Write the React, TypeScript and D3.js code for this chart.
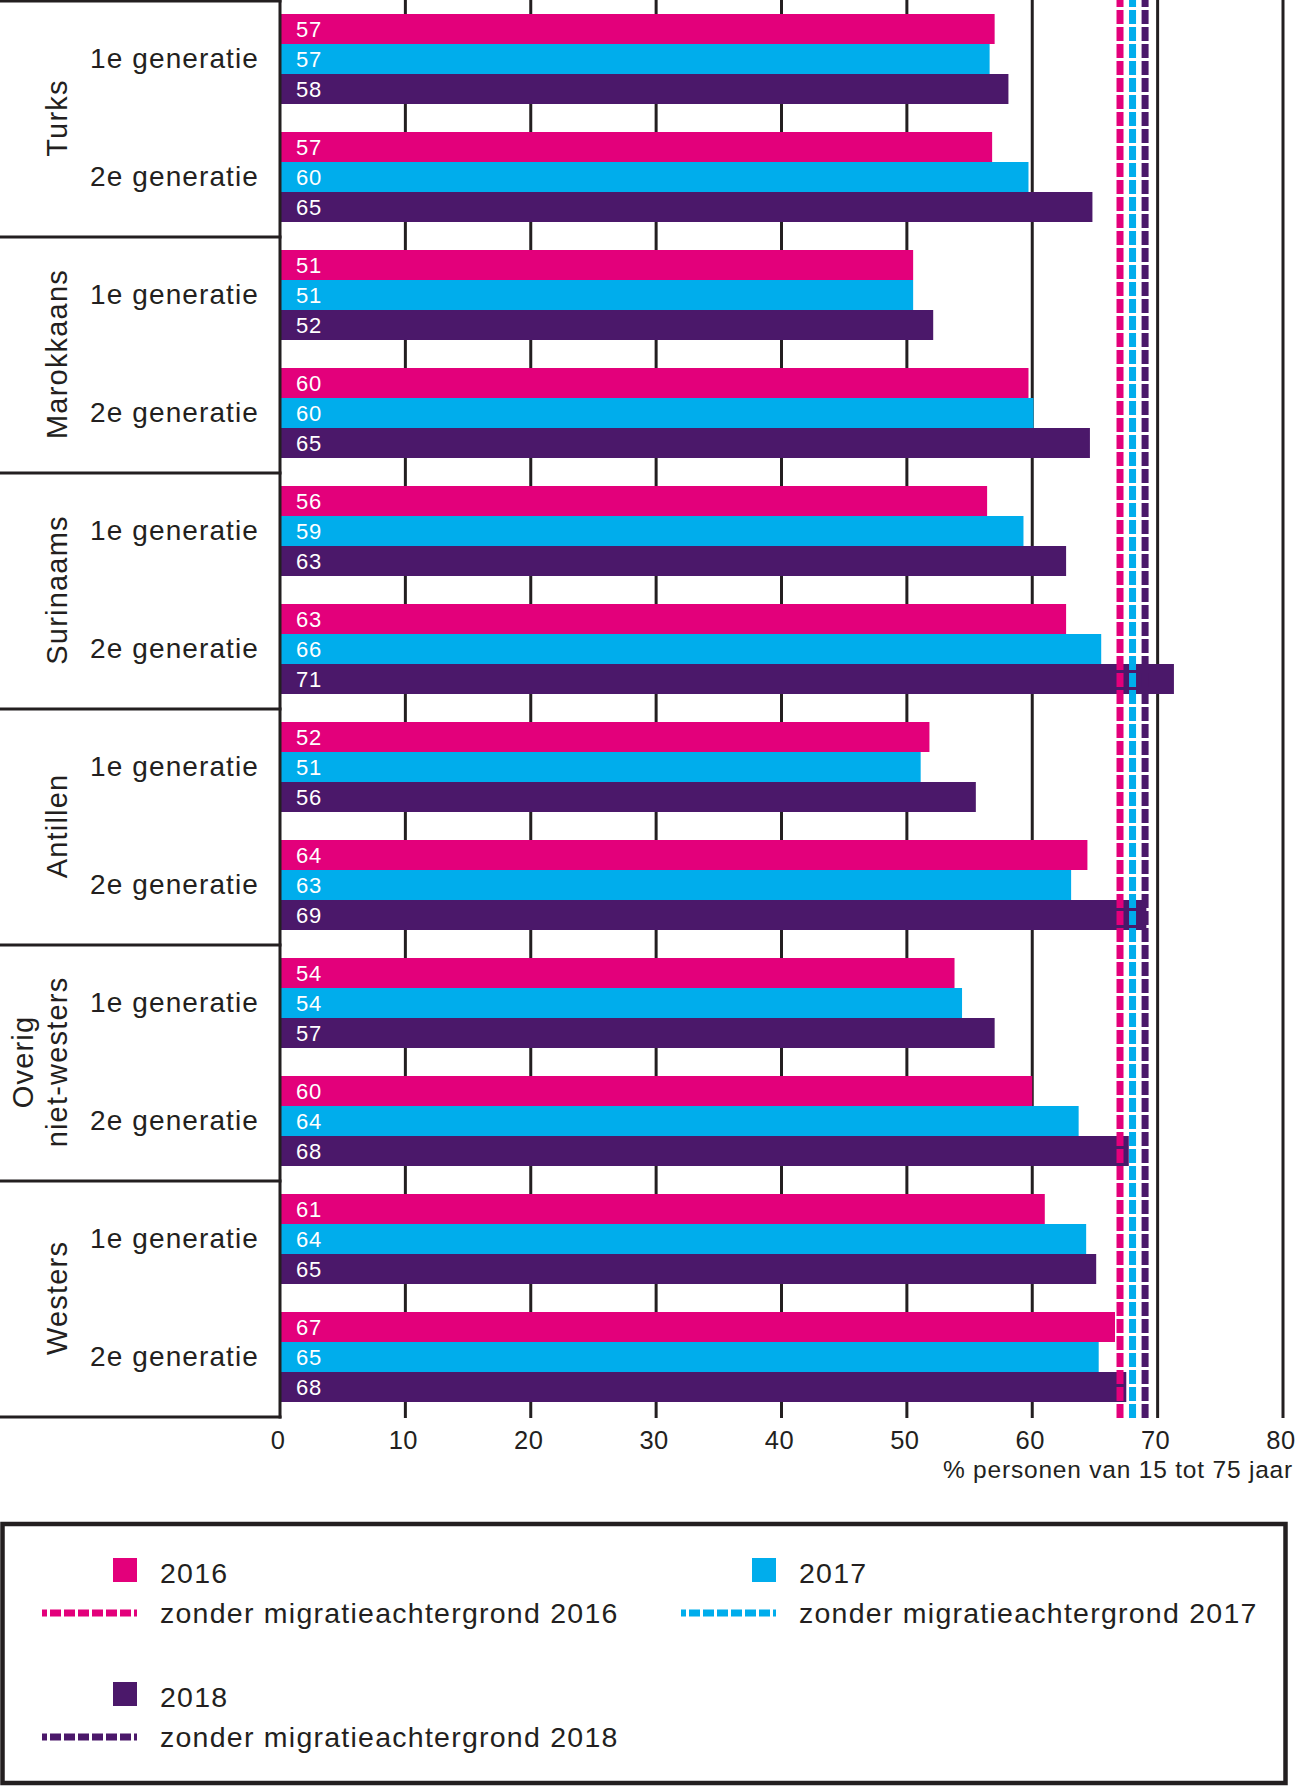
import React from "react";
import * as d3 from "d3";

const groups = ["Turks", "Marokkaans", "Surinaams", "Antillen", "Overig niet-westers", "Westers"];
const groupLabelLines = [["Turks"], ["Marokkaans"], ["Surinaams"], ["Antillen"], ["Overig", "niet-westers"], ["Westers"]];
const generations = ["1e generatie", "2e generatie"];
const years = ["2016", "2017", "2018"];

// order: Turks 1e, Turks 2e, Marokkaans 1e, Marokkaans 2e, ...
const values2016 = [57.0, 56.8, 50.5, 59.7, 56.4, 62.7, 51.8, 64.4, 53.8, 60.0, 61.0, 66.6];
const values2017 = [56.6, 59.7, 50.5, 60.1, 59.3, 65.5, 51.1, 63.1, 54.4, 63.7, 64.3, 65.3];
const values2018 = [58.1, 64.8, 52.1, 64.6, 62.7, 71.3, 55.5, 69.1, 57.0, 67.7, 65.1, 67.5];
const labels2016 = [57, 57, 51, 60, 56, 63, 52, 64, 54, 60, 61, 67];
const labels2017 = [57, 60, 51, 60, 59, 66, 51, 63, 54, 64, 64, 65];
const labels2018 = [58, 65, 52, 65, 63, 71, 56, 69, 57, 68, 65, 68];
const referenceValues = [67, 68, 69];
const referenceLabels = [
  "zonder migratieachtergrond 2016",
  "zonder migratieachtergrond 2017",
  "zonder migratieachtergrond 2018",
];
const xTicks = [0, 10, 20, 30, 40, 50, 60, 70, 80];
const xTitle = "% personen van 15 tot 75 jaar";

const colors = ["#E3007B", "#00ADEC", "#4B186A"];
const ink = "#231F20";
const font = "'Liberation Sans', Arial, sans-serif";

export default function App() {
  const W = 1300;
  const H = 1786;
  const x = d3.scaleLinear().domain([0, 80]).range([280, 1283]);
  const yGroup = d3.scaleBand<string>().domain(groups).range([0, 1416]);
  const yGen = d3.scaleBand<string>().domain(generations).range([0, yGroup.bandwidth()]);
  const ySer = d3.scaleBand<string>().domain(years).range([14, yGen.bandwidth() - 14]);
  const seriesValues = [values2016, values2017, values2018];
  const seriesLabels = [labels2016, labels2017, labels2018];
  const plotBottom = 1417;

  const bars: any[] = [];
  groups.forEach((g, gi) => {
    generations.forEach((gen, ni) => {
      const idx = gi * 2 + ni;
      years.forEach((yr, si) => {
        const y0 = (yGroup(g) as number) + (yGen(gen) as number) + (ySer(yr) as number);
        bars.push({
          key: `${g}-${gen}-${yr}`,
          y: y0,
          h: ySer.bandwidth(),
          w: x(seriesValues[si][idx]) - x(0),
          color: colors[si],
          label: seriesLabels[si][idx],
        });
      });
    });
  });

  const legendItems = [
    { x: 113, y: 1558, color: colors[0], year: years[0], label: referenceLabels[0] },
    { x: 752, y: 1558, color: colors[1], year: years[1], label: referenceLabels[1] },
    { x: 113, y: 1682, color: colors[2], year: years[2], label: referenceLabels[2] },
  ];

  return (
    <div style={{ position: "absolute", left: 0, top: 0 }}>
      <svg width={W} height={H} style={{ display: "block", background: "#fff" }} fontFamily={font}>
        {/* gridlines & ticks */}
        {xTicks.filter((t) => t > 0).map((t) => (
          <line key={"g" + t} x1={x(t)} x2={x(t)} y1={0} y2={plotBottom + 1} stroke={ink} strokeWidth={3} />
        ))}
        {/* bars */}
        {bars.map((b) => (
          <g key={b.key}>
            <rect x={x(0)} y={b.y} width={b.w} height={b.h} fill={b.color} />
            <text x={x(0) + 16} y={b.y + b.h / 2 + 8} fill="#fff" fontSize={22} letterSpacing={0.8}>
              {b.label}
            </text>
          </g>
        ))}
        {/* reference dashed lines */}
        {referenceValues.map((v, i) => (
          <line
            key={"r" + i}
            x1={x(v)}
            x2={x(v)}
            y1={0}
            y2={plotBottom + 4}
            stroke={colors[i]}
            strokeWidth={7}
            strokeDasharray="14 3"
            strokeDashoffset={7}
          />
        ))}
        {/* left frame */}
        <line x1={x(0)} x2={x(0)} y1={0} y2={plotBottom + 1.5} stroke={ink} strokeWidth={3} />
        <line x1={0} x2={x(0) + 1.5} y1={1} y2={1} stroke={ink} strokeWidth={3} />
        {groups.map((g) => (
          <line
            key={"sep" + g}
            x1={0}
            x2={x(0) + 1.5}
            y1={(yGroup(g) as number) + yGroup.bandwidth() + 1}
            y2={(yGroup(g) as number) + yGroup.bandwidth() + 1}
            stroke={ink}
            strokeWidth={3}
          />
        ))}
        {/* generation labels */}
        {groups.map((g) =>
          generations.map((gen) => (
            <text
              key={g + gen}
              x={259}
              y={(yGroup(g) as number) + (yGen(gen) as number) + yGen.bandwidth() / 2 + 9}
              textAnchor="end"
              fontSize={28}
              letterSpacing={1.1}
              fill={ink}
            >
              {gen}
            </text>
          ))
        )}
        {/* group labels */}
        {groups.map((g, gi) => {
          const cy = (yGroup(g) as number) + yGroup.bandwidth() / 2;
          const lines = groupLabelLines[gi];
          return lines.map((ln, li) => {
            const bx = 67 - (lines.length - 1 - li) * 34;
            return (
              <text
                key={g + li}
                transform={`translate(${bx},${cy}) rotate(-90)`}
                textAnchor="middle"
                fontSize={29}
                letterSpacing={1.2}
                fill={ink}
              >
                {ln}
              </text>
            );
          });
        })}
        {/* tick labels */}
        {xTicks.map((t) => (
          <text key={"t" + t} x={x(t) - 2} y={1449} textAnchor="middle" fontSize={25.5} letterSpacing={0.5} fill={ink}>
            {t}
          </text>
        ))}
        <text x={1293} y={1478} textAnchor="end" fontSize={24.5} letterSpacing={0.8} fill={ink}>
          {xTitle}
        </text>
        {/* legend */}
        <rect x={2.5} y={1524} width={1283} height={259} fill="none" stroke={ink} strokeWidth={4.5} />
        {legendItems.map((it) => (
          <g key={it.year}>
            <rect x={it.x} y={it.y} width={24} height={24} fill={it.color} />
            <text x={it.x + 47} y={it.y + 25} fontSize={28.5} letterSpacing={1.25} fill={ink}>
              {it.year}
            </text>
            <line
              x1={it.x - 71}
              x2={it.x + 24}
              y1={it.y + 55}
              y2={it.y + 55}
              stroke={it.color}
              strokeWidth={7}
              strokeDasharray="11 3"
              strokeDashoffset={6}
            />
            <text x={it.x + 47} y={it.y + 65} fontSize={28.5} letterSpacing={1.25} fill={ink}>
              {it.label}
            </text>
          </g>
        ))}
      </svg>
    </div>
  );
}
